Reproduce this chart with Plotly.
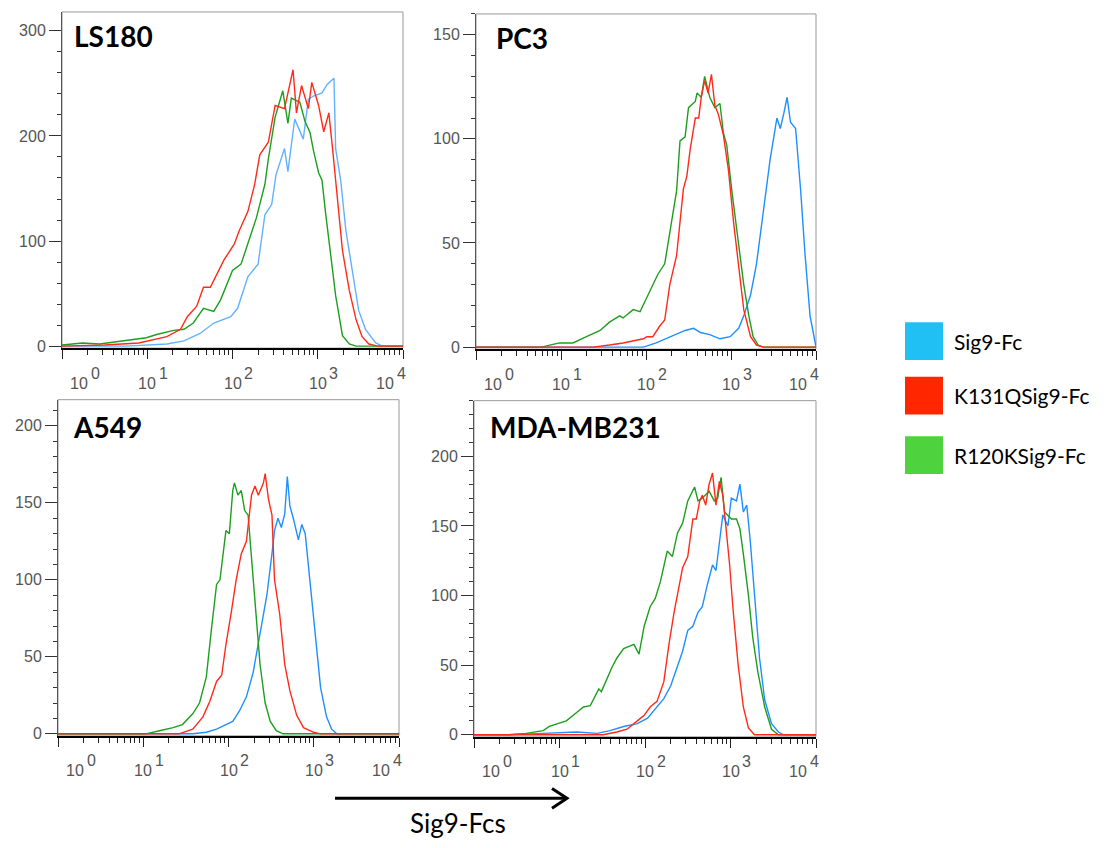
import numpy as np
import plotly.graph_objects as go

W, H = 1107, 848
OFF = 8  # default page margin round the plot div
FW, FH = W - 2 * OFF, H - 2 * OFF

# x values are log10 of fluorescence intensity, y values are cell counts
ls180_blue_x = [0.0, 0.75, 1.23, 1.43, 1.62, 1.78, 1.98, 2.06, 2.18, 2.3, 2.38, 2.46, 2.51, 2.61, 2.65, 2.73,
                2.83, 2.89, 2.95, 3.05, 3.11, 3.19, 3.21, 3.27, 3.33, 3.41, 3.48, 3.56, 3.68, 3.76, 4.0]
ls180_blue_y = [0, 0, 2, 5, 12, 22, 28, 36, 66, 78, 125, 135, 163, 188, 166, 216,
                197, 235, 238, 241, 249, 255, 188, 157, 110, 69, 34, 16, 3, 0, 0]
ls180_red_x = [0.0, 0.5, 0.9, 1.0, 1.23, 1.39, 1.47, 1.58, 1.66, 1.74, 1.9, 2.02, 2.08, 2.18, 2.26, 2.32, 2.42,
               2.5, 2.61, 2.71, 2.75, 2.81, 2.89, 2.93, 3.01, 3.07, 3.13, 3.17, 3.23, 3.29, 3.37, 3.45, 3.52,
               3.6, 3.7, 4.0]
ls180_red_y = [0, 1, 3, 5, 9, 16, 28, 38, 56, 56, 82, 97, 110, 128, 154, 182, 194,
               229, 226, 263, 222, 248, 226, 251, 229, 204, 222, 191, 141, 91, 53, 25, 9,
               2, 0, 0]
ls180_green_x = [0.0, 0.24, 0.44, 0.63, 0.79, 0.99, 1.11, 1.31, 1.43, 1.54, 1.66, 1.78, 1.86, 2.0, 2.1, 2.18,
                 2.28, 2.38, 2.42, 2.5, 2.59, 2.65, 2.69, 2.79, 2.85, 2.91, 2.95, 3.01, 3.05, 3.09, 3.15,
                 3.21, 3.29, 3.37, 3.45, 4.0]
ls180_green_y = [1, 3, 2, 4, 6, 8, 11, 15, 16, 22, 36, 33, 44, 72, 78, 97,
                 122, 154, 178, 218, 243, 212, 236, 232, 214, 203, 186, 165, 158, 128, 86,
                 48, 10, 2, 0, 0]

pc3_blue_x = [0.0, 1.57, 1.97, 2.12, 2.24, 2.36, 2.46, 2.56, 2.64, 2.75, 2.87, 2.99, 3.09, 3.15, 3.23, 3.3,
              3.38, 3.46, 3.54, 3.58, 3.62, 3.66, 3.7, 3.76, 3.82, 3.87, 3.93, 3.99, 4.0]
pc3_blue_y = [0, 0, 0, 2, 4, 6, 8, 9, 7, 6, 4, 5, 9, 15, 25, 40,
              65, 90, 110, 105, 112, 120, 108, 105, 75, 45, 15, 1, 0]
pc3_red_x = [0.0, 1.38, 1.57, 1.73, 1.97, 2.01, 2.08, 2.16, 2.22, 2.28, 2.36, 2.4, 2.44, 2.48, 2.52, 2.58,
             2.62, 2.65, 2.69, 2.73, 2.77, 2.81, 2.85, 2.91, 2.97, 3.03, 3.09, 3.15, 3.23, 3.3, 3.38, 4.0]
pc3_red_y = [0, 0, 1, 2, 4, 5, 5, 10, 13, 30, 44, 60, 76, 82, 95, 110,
             110, 120, 128, 122, 131, 116, 112, 102, 85, 60, 40, 18, 5, 1, 0, 0]
pc3_green_x = [0.0, 0.77, 0.98, 1.14, 1.3, 1.46, 1.57, 1.69, 1.73, 1.85, 1.93, 2.05, 2.14, 2.22, 2.28, 2.36,
               2.4, 2.46, 2.5, 2.58, 2.6, 2.65, 2.69, 2.75, 2.81, 2.87, 2.91, 2.95, 3.01, 3.09, 3.15,
               3.21, 3.26, 3.32, 3.38, 4.0]
pc3_green_y = [0, 0, 2, 2, 5, 8, 12, 15, 14, 18, 17, 27, 35, 40, 55, 75,
               99, 101, 115, 118, 122, 120, 130, 120, 115, 117, 103, 97, 75, 50, 30,
               15, 5, 1, 0, 0]

a549_blue_x = [0.0, 1.58, 1.74, 1.86, 1.97, 2.05, 2.13, 2.21, 2.29, 2.37, 2.45, 2.51, 2.54, 2.58, 2.62, 2.66,
               2.69, 2.72, 2.76, 2.82, 2.86, 2.9, 2.96, 3.02, 3.08, 3.15, 3.21, 3.27, 4.0]
a549_blue_y = [0, 0, 1, 3, 6, 8, 15, 24, 40, 64, 90, 117, 132, 140, 134, 143,
               167, 148, 140, 126, 136, 130, 97, 63, 30, 11, 3, 0, 0]
a549_red_x = [0.0, 1.42, 1.58, 1.7, 1.78, 1.86, 1.92, 1.97, 2.03, 2.09, 2.15, 2.21, 2.27, 2.31, 2.35, 2.41,
              2.43, 2.47, 2.51, 2.54, 2.6, 2.66, 2.72, 2.8, 2.88, 3.0, 3.08, 4.0]
a549_red_y = [0, 0, 3, 11, 21, 34, 38, 58, 78, 100, 117, 125, 155, 161, 155, 163,
              169, 152, 142, 100, 78, 45, 28, 12, 4, 1, 0, 0]
a549_green_x = [0.0, 1.03, 1.19, 1.35, 1.46, 1.58, 1.66, 1.74, 1.8, 1.86, 1.9, 1.94, 1.97, 2.01, 2.05, 2.07,
                2.11, 2.15, 2.19, 2.23, 2.27, 2.31, 2.37, 2.43, 2.49, 2.56, 2.64, 4.0]
a549_green_y = [0, 0, 2, 4, 6, 13, 20, 37, 68, 97, 100, 118, 132, 130, 158, 163,
                155, 158, 145, 142, 115, 85, 45, 20, 8, 2, 0, 0]

mda_blue_x = [0.0, 0.41, 0.81, 1.2, 1.44, 1.59, 1.75, 1.91, 2.03, 2.14, 2.22, 2.3, 2.38, 2.44, 2.5, 2.56,
              2.62, 2.67, 2.73, 2.79, 2.83, 2.87, 2.91, 2.97, 3.01, 3.07, 3.11, 3.15, 3.19, 3.23, 3.28,
              3.34, 3.4, 3.48, 3.56, 3.62, 4.0]
mda_blue_y = [0, 0, 1, 2, 1, 3, 6, 8, 12, 20, 26, 35, 50, 60, 75, 78,
              88, 92, 108, 122, 118, 140, 158, 150, 170, 168, 180, 160, 165, 140, 100,
              55, 25, 8, 2, 0, 0]
mda_red_x = [0.0, 1.51, 1.67, 1.79, 1.91, 1.99, 2.06, 2.14, 2.22, 2.28, 2.34, 2.38, 2.44, 2.5, 2.56, 2.6,
             2.64, 2.67, 2.71, 2.75, 2.79, 2.83, 2.87, 2.91, 2.95, 2.99, 3.03, 3.09, 3.15, 3.21, 3.28, 4.0]
mda_red_y = [0, 0, 2, 4, 10, 14, 20, 24, 38, 65, 88, 100, 120, 128, 155, 155,
             168, 172, 165, 180, 188, 165, 182, 172, 148, 122, 90, 50, 20, 5, 0, 0]
mda_green_x = [0.0, 0.41, 0.61, 0.81, 0.88, 0.98, 1.08, 1.2, 1.28, 1.36, 1.46, 1.49, 1.55, 1.61, 1.67, 1.75,
               1.87, 1.93, 1.99, 2.06, 2.12, 2.18, 2.26, 2.32, 2.38, 2.44, 2.5, 2.58, 2.62, 2.67, 2.75,
               2.81, 2.85, 2.89, 2.93, 3.01, 3.07, 3.11, 3.15, 3.21, 3.26, 3.32, 3.4, 3.48, 3.56, 4.0]
mda_green_y = [0, 0, 1, 3, 6, 8, 10, 16, 20, 21, 33, 31, 40, 48, 55, 62,
               65, 58, 78, 92, 98, 110, 132, 128, 145, 152, 168, 178, 168, 170, 175,
               168, 170, 185, 160, 155, 155, 148, 130, 100, 70, 45, 20, 4, 0, 0]

panel_names = ["LS180", "PC3", "A549", "MDA-MB231"]
y_max = [318, 160, 217, 240]
y_ticks = [[0, 100, 200, 300], [0, 50, 100, 150], [0, 50, 100, 150, 200], [0, 50, 100, 150, 200]]
y_minor_step = [20, 10, 10, 10]
x_decades = [0, 1, 2, 3, 4]

legend_names = ["Sig9-Fc", "K131QSig9-Fc", "R120KSig9-Fc"]
legend_colors = ["#21c0f4", "#ff2600", "#4ed33e"]

data = [
    [(ls180_blue_x, ls180_blue_y), (ls180_green_x, ls180_green_y), (ls180_red_x, ls180_red_y)],
    [(pc3_blue_x, pc3_blue_y), (pc3_green_x, pc3_green_y), (pc3_red_x, pc3_red_y)],
    [(a549_blue_x, a549_blue_y), (a549_green_x, a549_green_y), (a549_red_x, a549_red_y)],
    [(mda_blue_x, mda_blue_y), (mda_green_x, mda_green_y), (mda_red_x, mda_red_y)],
]
line_colors = [["#62b2ff", "#1e9e1e", "#ff2a1a"]] + [["#1e8fff", "#1e9e1e", "#ff2a1a"]] * 3

# plot frames in page pixels: left, top, right, bottom
frames = [(62, 12, 403, 351), (476, 14, 816, 352), (58, 403, 399, 742), (474, 404, 816, 743)]
label_offsets = [(10, 24), (18, 24), (13, 27), (14, 26)]
base_shift = [17, 0, 0, 0, -18]   # "10" of each decade label, relative to its tick


def px(x):
    return (x - OFF) / FW


def py(y):
    return 1 - (y - OFF) / FH


fig = go.Figure()
layout = dict(width=FW, height=FH, margin=dict(l=0, r=0, t=0, b=0),
              paper_bgcolor="white", plot_bgcolor="white", showlegend=False)
shapes = []
annotations = []
minor_x = [m * 10 ** k for k in range(4) for m in range(2, 10)]
tick_font = dict(family="Liberation Sans", size=16, color="#555")

for i in range(4):
    n = i + 1
    xa = "x" if n == 1 else f"x{n}"
    ya = "y" if n == 1 else f"y{n}"
    l, t, r, b = frames[i]

    for (sx, sy), c in zip(data[i], line_colors[i]):
        fig.add_trace(go.Scatter(x=10 ** np.array(sx), y=sy, mode="lines",
                                 line=dict(color=c, width=1.4),
                                 xaxis=xa, yaxis=ya, hoverinfo="skip"))

    layout["xaxis" if n == 1 else f"xaxis{n}"] = dict(
        type="log", range=[0, 4], domain=[px(l), px(r)], anchor=ya, layer="below traces",
        showgrid=False, zeroline=False, showline=True, linecolor="black", linewidth=2,
        ticks="outside", ticklen=9, tickwidth=1, tickcolor="#222",
        tickmode="array", tickvals=[10 ** k for k in x_decades], showticklabels=False,
        minor=dict(tickmode="array", tickvals=minor_x, ticks="outside", ticklen=5,
                   tickwidth=1, tickcolor="#222"),
    )
    layout["yaxis" if n == 1 else f"yaxis{n}"] = dict(
        range=[-0.006 * y_max[i], y_max[i]], domain=[py(b), py(t)], anchor=xa,
        showgrid=False, zeroline=False, showline=True, linecolor="#555", linewidth=1,
        ticks="outside", ticklen=12, tickwidth=1, tickcolor="#333",
        tickmode="array", tickvals=y_ticks[i], tickfont=tick_font,
        minor=dict(dtick=y_minor_step[i], tick0=0, ticks="outside", ticklen=4,
                   tickwidth=1, tickcolor="#333"),
    )

    shapes.append(dict(type="rect", xref=f"{xa} domain", yref=f"{ya} domain",
                       x0=0, x1=1, y0=0, y1=1, line=dict(color="#999", width=1), layer="below"))

    # decade labels: "10" with a raised exponent of the same size
    for k, sh in zip(x_decades, base_shift):
        annotations.append(dict(x=k, xref=xa, y=0, yref=f"{ya} domain", yanchor="middle",
                                yshift=-35, xshift=sh, text="10", showarrow=False, font=tick_font))
        annotations.append(dict(x=k, xref=xa, y=0, yref=f"{ya} domain", yanchor="middle",
                                yshift=-25, xshift=sh + 16, text=str(k), showarrow=False,
                                font=tick_font))

    ox, oy = label_offsets[i]
    annotations.append(dict(
        x=0, xref=f"{xa} domain", y=1, yref=f"{ya} domain", xanchor="left", yanchor="middle",
        xshift=ox, yshift=-oy, text=f"<b>{panel_names[i]}</b>", showarrow=False,
        font=dict(family="Lato", size=28, color="black")))

# legend swatches
for j, (name, c) in enumerate(zip(legend_names, legend_colors)):
    top = [325, 380, 440][j]
    shapes.append(dict(type="rect", xref="paper", yref="paper",
                       x0=px(905), x1=px(943), y0=py(top + 38), y1=py(top),
                       fillcolor=c, line=dict(width=0)))
    annotations.append(dict(x=px(952), y=py(top + 19), xref="paper", yref="paper",
                            xanchor="left", yanchor="middle", text=name, showarrow=False,
                            font=dict(family="Lato", size=21, color="black")))

# axis arrow
shapes.append(dict(type="line", xref="paper", yref="paper", x0=px(335), x1=px(565),
                   y0=py(805), y1=py(805), line=dict(color="black", width=3)))
shapes.append(dict(type="path", xref="paper", yref="paper",
                   path=f"M {px(552)} {py(795)} L {px(567)} {py(805)} L {px(552)} {py(815)}",
                   line=dict(color="black", width=3)))
annotations.append(dict(x=px(458), y=py(830), xref="paper", yref="paper", xanchor="center",
                        yanchor="middle", text="Sig9-Fcs", showarrow=False,
                        font=dict(family="Lato", size=26, color="black")))

layout["shapes"] = shapes
layout["annotations"] = annotations
fig.update_layout(**layout)

fig.write_html("out.html")
